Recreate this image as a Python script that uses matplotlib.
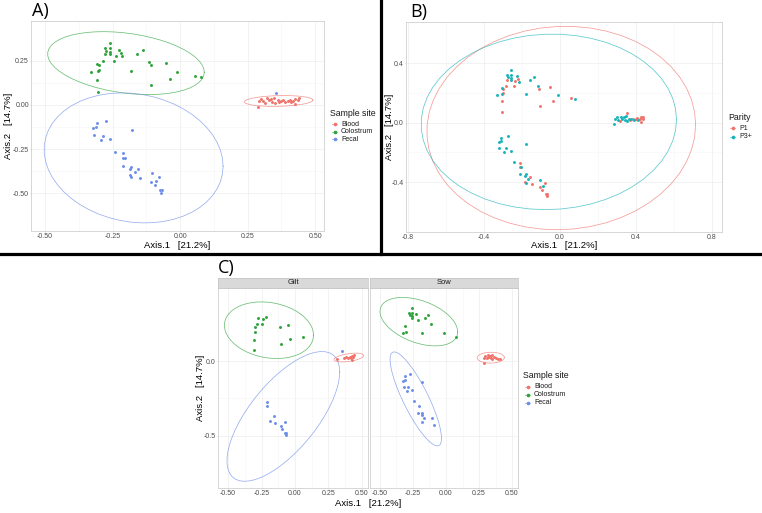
import matplotlib
matplotlib.use('Agg')
import matplotlib.pyplot as plt
import numpy as np
import pandas as pd
from matplotlib import rcParams
from matplotlib.lines import Line2D
from matplotlib.ticker import FixedLocator, FixedFormatter

rcParams['font.family'] = ['Liberation Sans', 'DejaVu Sans']

W, H = 762, 513

# Ordination scores (Axis.1, Axis.2), with parity of each sample
colostrum_x = [-0.259, -0.277, -0.258, -0.225, -0.273, -0.260, -0.277, -0.260, -0.219, -0.237,
               -0.214, -0.138, -0.160, -0.244, -0.284, -0.307, -0.299, -0.329, -0.303, -0.300,
               -0.306, -0.305, -0.180, -0.116, -0.109, -0.107, -0.053, -0.012, -0.038, 0.057, 0.079]
colostrum_y = [0.351, 0.322, 0.320, 0.311, 0.307, 0.301, 0.288, 0.288, 0.292, 0.277,
               0.275, 0.309, 0.286, 0.247, 0.247, 0.232, 0.226, 0.187, 0.194, 0.196,
               0.143, 0.071, 0.190, 0.245, 0.228, 0.113, 0.239, 0.184, 0.147, 0.162, 0.160]
colostrum_parity = ['P3+', 'P3+', 'P3+', 'P3+', 'P3+', 'P3+', 'P1', 'P3+', 'P1', 'P1',
                    'P3+', 'P3+', 'P3+', 'P1', 'P1', 'P3+', 'P1', 'P3+', 'P3+', 'P1',
                    'P1', 'P1', 'P3+', 'P3+', 'P1', 'P1', 'P1', 'P3+', 'P1', 'P1', 'P3+']

fecal_x = [-0.309, -0.274, -0.322, -0.311, -0.320, -0.286, -0.293, -0.260, -0.179, -0.240,
           -0.210, -0.212, -0.205, -0.212, -0.180, -0.185, -0.157, -0.167, -0.185, -0.180,
           -0.147, -0.103, -0.078, -0.107, -0.090, -0.094, -0.073, -0.068, -0.069, 0.354]
fecal_y = [-0.102, -0.089, -0.130, -0.127, -0.172, -0.174, -0.200, -0.191, -0.141, -0.268,
           -0.274, -0.302, -0.300, -0.345, -0.349, -0.362, -0.364, -0.381, -0.398, -0.406,
           -0.415, -0.383, -0.406, -0.434, -0.430, -0.451, -0.479, -0.481, -0.496, 0.066]
fecal_parity = ['P3+', 'P3+', 'P3+', 'P3+', 'P3+', 'P3+', 'P3+', 'P3+', 'P3+', 'P3+',
                'P1', 'P1', 'P3+', 'P3+', 'P3+', 'P3+', 'P1', 'P3+', 'P1', 'P3+',
                'P1', 'P3+', 'P1', 'P1', 'P3+', 'P1', 'P1', 'P1', 'P1', 'P1']

blood_x = [0.291, 0.287, 0.298, 0.308, 0.316, 0.321, 0.328, 0.336, 0.341, 0.346, 0.351, 0.361,
           0.368, 0.375, 0.383, 0.390, 0.398, 0.407, 0.412, 0.420, 0.427, 0.435, 0.439, 0.425]
blood_y = [0.022, -0.011, 0.034, 0.020, 0.011, 0.037, 0.026, 0.034, 0.019, 0.041, 0.011, 0.026,
           0.019, 0.022, 0.026, 0.015, 0.022, 0.030, 0.015, 0.022, 0.034, 0.026, 0.037, 0.004]
blood_parity = ['P3+', 'P3+', 'P3+', 'P3+', 'P1', 'P3+', 'P3+', 'P3+', 'P3+', 'P3+', 'P3+', 'P3+',
                'P1', 'P3+', 'P1', 'P3+', 'P1', 'P1', 'P3+', 'P1', 'P1', 'P1', 'P1', 'P1']

sites = ['Blood', 'Colostrum', 'Fecal']
parities = ['P1', 'P3+']
facet_names = {'P1': 'Gilt', 'P3+': 'Sow'}

site_colors = {'Blood': '#F0736B', 'Colostrum': '#2FA33A', 'Fecal': '#6C8EE8'}
parity_colors = {'P1': '#F0736B', 'P3+': '#19B3BA'}

df = pd.concat([
    pd.DataFrame({'x': blood_x, 'y': blood_y, 'parity': blood_parity, 'site': 'Blood'}),
    pd.DataFrame({'x': colostrum_x, 'y': colostrum_y, 'parity': colostrum_parity, 'site': 'Colostrum'}),
    pd.DataFrame({'x': fecal_x, 'y': fecal_y, 'parity': fecal_parity, 'site': 'Fecal'}),
], ignore_index=True)


def ellipse_path(x, y, level=0.95, segments=51):
    """Like ggplot2 stat_ellipse(type='norm')"""
    xy = np.column_stack([x, y])
    center = xy.mean(axis=0)
    shape = np.cov(xy.T)
    dfd = len(xy) - 1
    qf = dfd / 2 * ((1 - level) ** (-2 / dfd) - 1)  # F quantile with dfn = 2
    radius = np.sqrt(2 * qf)
    ang = np.arange(segments + 1) * 2 * np.pi / segments
    circle = np.column_stack([np.cos(ang), np.sin(ang)])
    L = np.linalg.cholesky(shape)
    pts = center + radius * (circle @ L.T)
    return pts[:, 0], pts[:, 1]


def add_axes_px(fig, x0, y0, x1, y1):
    return fig.add_axes([x0 / W, 1 - y1 / H, (x1 - x0) / W, (y1 - y0) / H])


def style_axes(ax, xlim, ylim, xticks, xlabels, yticks, ylabels, show_y=True):
    ax.set_xlim(*xlim)
    ax.set_ylim(*ylim)
    ax.xaxis.set_major_locator(FixedLocator(xticks))
    ax.xaxis.set_major_formatter(FixedFormatter(xlabels))
    ax.yaxis.set_major_locator(FixedLocator(yticks))
    ax.yaxis.set_major_formatter(FixedFormatter(ylabels if show_y else [''] * len(yticks)))
    ax.xaxis.set_minor_locator(FixedLocator([(a + b) / 2 for a, b in zip(xticks[:-1], xticks[1:])]))
    ax.yaxis.set_minor_locator(FixedLocator([(a + b) / 2 for a, b in zip(yticks[:-1], yticks[1:])]))
    ax.grid(True, which='major', color='#EDEDED', lw=0.5)
    ax.grid(True, which='minor', color='#F6F6F6', lw=0.4)
    ax.set_axisbelow(True)
    ax.tick_params(which='major', length=1.0, width=0.4, color='#BBBBBB',
                   labelsize=5, labelcolor='#4D4D4D', pad=0.5)
    ax.tick_params(which='minor', length=0)
    if not show_y:
        ax.tick_params(axis='y', length=0)
    for s in ax.spines.values():
        s.set_color('#D0D0D0')
        s.set_linewidth(0.6)


def draw_group(ax, sub, color):
    ax.scatter(sub['x'], sub['y'], s=4.5, color=color, lw=0, zorder=3)
    ex, ey = ellipse_path(sub['x'].values, sub['y'].values)
    ax.plot(ex, ey, color=color, lw=0.55, alpha=0.7, zorder=2)


def draw_legend(fig, x, y, title, labels, colors, step):
    fig.text(x / W, 1 - y / H, title, fontsize=6.3, va='center', ha='left', color='#1A1A1A')
    for i, (lab, col) in enumerate(zip(labels, colors)):
        yy = 1 - (y + 11 + i * step) / H
        fig.add_artist(Line2D([(x + 2) / W, (x + 7) / W], [yy, yy], color=col, lw=0.5, alpha=0.8))
        fig.add_artist(Line2D([(x + 4.5) / W], [yy], color=col, marker='o', markersize=1.6, lw=0))
        fig.text((x + 11) / W, yy, lab, fontsize=5, va='center', ha='left', color='#1A1A1A')


def main():
    fig = plt.figure(figsize=(W / 100, H / 100), dpi=100)

    # ---- A) coloured by sample site
    ax = add_axes_px(fig, 31, 21, 324, 231)
    for site in sites:
        draw_group(ax, df[df['site'] == site], site_colors[site])
    style_axes(ax, (-0.552, 0.533), (-0.713, 0.475),
               [-0.5, -0.25, 0, 0.25, 0.5], ['-0.50', '-0.25', '0.00', '0.25', '0.50'],
               [-0.5, -0.25, 0, 0.25], ['-0.50', '-0.25', '0.00', '0.25'])
    fig.text(177 / W, 1 - 245.5 / H, 'Axis.1   [21.2%]', fontsize=6.8, ha='center', va='center')
    fig.text(8.5 / W, 1 - 126 / H, 'Axis.2   [14.7%]', fontsize=6.8, ha='center', va='center',
             rotation=90)
    draw_legend(fig, 330, 113, 'Sample site', sites, [site_colors[s] for s in sites], 7.7)

    # ---- B) coloured by parity
    ax = add_axes_px(fig, 406, 22, 722, 232)
    for par in parities:
        draw_group(ax, df[df['parity'] == par], parity_colors[par])
    style_axes(ax, (-0.81, 0.853), (-0.736, 0.676),
               [-0.8, -0.4, 0, 0.4, 0.8], ['-0.8', '-0.4', '0.0', '0.4', '0.8'],
               [-0.4, 0, 0.4], ['-0.4', '0.0', '0.4'])
    fig.text(564 / W, 1 - 245.5 / H, 'Axis.1   [21.2%]', fontsize=6.8, ha='center', va='center')
    fig.text(390 / W, 1 - 127 / H, 'Axis.2   [14.7%]', fontsize=6.8, ha='center', va='center',
             rotation=90)
    draw_legend(fig, 728, 117, 'Parity', parities, [parity_colors[p] for p in parities], 8.7)

    # ---- C) faceted by gilt / sow, coloured by sample site
    panels = {'P1': (218, 368), 'P3+': (370, 518)}
    for j, par in enumerate(parities):
        x0, x1 = panels[par]
        ax = add_axes_px(fig, x0, 288, x1, 488)
        sub = df[df['parity'] == par]
        for site in sites:
            draw_group(ax, sub[sub['site'] == site], site_colors[site])
        style_axes(ax, (-0.575, 0.545), (-0.847, 0.487),
                   [-0.5, -0.25, 0, 0.25, 0.5], ['-0.50', '-0.25', '0.00', '0.25', '0.50'],
                   [-0.5, 0], ['-0.5', '0.0'], show_y=(j == 0))
        strip = add_axes_px(fig, x0, 278, x1, 288)
        strip.set_facecolor('#D9D9D9')
        strip.set_xticks([])
        strip.set_yticks([])
        for s in strip.spines.values():
            s.set_color('#C4C4C4')
            s.set_linewidth(0.5)
        strip.text(0.5, 0.5, facet_names[par], fontsize=5.5, ha='center', va='center',
                   color='#1A1A1A', transform=strip.transAxes)
    fig.text(368 / W, 1 - 503 / H, 'Axis.1   [21.2%]', fontsize=6.8, ha='center', va='center')
    fig.text(200.5 / W, 1 - 388 / H, 'Axis.2   [14.7%]', fontsize=6.8, ha='center', va='center',
             rotation=90)
    draw_legend(fig, 523, 376, 'Sample site', sites, [site_colors[s] for s in sites], 8.0)

    # panel letters and dividing lines
    for lab, x, y in [('A)', 32, 11), ('B)', 410, 12), ('C)', 218, 268)]:
        fig.text(x / W, 1 - y / H, lab, fontsize=13, ha='left', va='center',
                 family=['Open Sans', 'DejaVu Sans'])
    fig.add_artist(Line2D([0, 1], [1 - 253.5 / H] * 2, color='black', lw=2.3))
    fig.add_artist(Line2D([381.5 / W] * 2, [1 - 253.5 / H, 1], color='black', lw=2.3))

    fig.savefig('out.png', dpi=100)
    plt.close(fig)


if __name__ == '__main__':
    main()
